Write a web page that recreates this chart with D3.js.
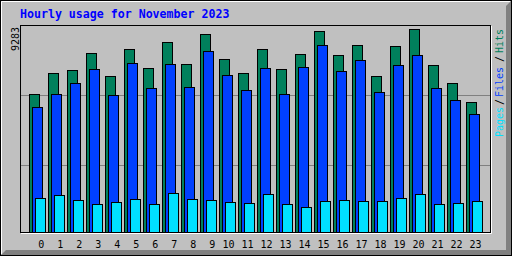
<!DOCTYPE html>
<html>
<head>
<meta charset="utf-8">
<script src="https://cdn.jsdelivr.net/npm/d3@7"></script>
<style>
  body { margin: 0; background: #fff; }
  svg text { font-family: "DejaVu Sans Mono", monospace; }
</style>
</head>
<body>
<div class="chart"></div>
<script>
// data
var title = "Hourly usage for November 2023";
var hours = d3.range(24);
var hits  = [6311, 7271, 7408, 8186, 7134, 8368, 7500, 8689, 7682, 9054, 7911, 7271,
             8368, 7454, 8140, 9192, 8094, 8551, 7134, 8506, 9283, 7637, 6814, 5945];
var files = [5716, 6311, 6814, 7454, 6265, 7728, 6585, 7682, 6631, 8277, 7179, 6494,
             7500, 6311, 7545, 8551, 7362, 7865, 6402, 7637, 8094, 6585, 6036, 5396];
var pages = [1555, 1692, 1463, 1280, 1372, 1509, 1280, 1783, 1509, 1463, 1372, 1326,
             1738, 1280, 1143, 1418, 1463, 1418, 1418, 1555, 1738, 1280, 1326, 1418];
var legend = [
  { text: "Pages", color: "#00E0FF" },
  { text: "/",     color: "#000000" },
  { text: "Files", color: "#0040FF" },
  { text: "/",     color: "#000000" },
  { text: "Hits",  color: "#00805C" }
];

var W = 512, H = 256;
var grey = "#C0C0C0", dkgrey = "#808080";

var svg = d3.select(".chart")
    .append("svg")
    .attr("width", W)
    .attr("height", H)
    .style("display", "block");

// background + 3d border
svg.append("rect").attr("width", W).attr("height", H).attr("fill", grey);
svg.append("polygon")
    .attr("points", "1,255 6,250 506,250 506,6 511,1 511,255")
    .attr("fill", dkgrey);
svg.append("path")
    .attr("d", "M1.5,254 V1.5 H510")
    .attr("fill", "none").attr("stroke", "#fff");
svg.append("rect")
    .attr("x", 0.5).attr("y", 0.5).attr("width", 511).attr("height", 255)
    .attr("fill", "none").attr("stroke", "#000");

// scales
var maxval = d3.max(hits);
var x = d3.scaleBand().domain(hours).range([29, 29 + 24 * 19]);
var y = d3.scaleLinear().domain([0, maxval]).range([232, 29]);

// plot frame
svg.append("path")
    .attr("d", "M21,233.5 H491.5 V26")
    .attr("fill", "none").attr("stroke", "#fff");
svg.append("rect")
    .attr("x", 20.5).attr("y", 25.5).attr("width", 470).attr("height", 207)
    .attr("fill", "none").attr("stroke", "#000");

// index lines
svg.selectAll(".grid")
    .data([1, 2])
    .enter().append("line")
    .attr("class", "grid")
    .attr("x1", 21).attr("x2", 490)
    .attr("y1", function (d) { return d * 70 + 25.5; })
    .attr("y2", function (d) { return d * 70 + 25.5; })
    .attr("stroke", dkgrey);

// bars: hits, files, pages each shifted 3px
var series = [
  { values: hits,  color: "#00805C", off: 0 },
  { values: files, color: "#0040FF", off: 3 },
  { values: pages, color: "#00E0FF", off: 6 }
];

series.forEach(function (s) {
    svg.selectAll(".bar-" + s.off)
        .data(hours)
        .enter().append("rect")
        .attr("class", "bar-" + s.off)
        .attr("x", function (d) { return x(d) + s.off + 0.5; })
        .attr("y", function (d) { return Math.round(y(s.values[d])) + 0.5; })
        .attr("width", 10)
        .attr("height", function (d) { return y(0) - Math.round(y(s.values[d])); })
        .attr("fill", s.color)
        .attr("stroke", "#000");
});

// hour labels
svg.selectAll(".hr")
    .data(hours)
    .enter().append("text")
    .attr("class", "hr")
    .attr("x", function (d) { return x(d) + (d < 10 ? 12.3 : 9.5); })
    .attr("y", 248)
    .attr("text-anchor", "middle")
    .attr("font-size", 10)
    .attr("fill", "#000")
    .text(function (d) { return d; });

// title
svg.append("text")
    .attr("x", 20)
    .attr("y", 18)
    .attr("font-size", 11.6)
    .attr("font-weight", "bold")
    .attr("fill", "#0000FF")
    .text(title);

// max value label
svg.append("text")
    .attr("transform", "translate(19,51) rotate(-90)")
    .attr("font-size", 10)
    .attr("fill", "#000")
    .text(maxval);

// right legend, reading upward
var ly = [137, 105, 97, 62, 53];
legend.forEach(function (l, i) {
    svg.append("text")
        .attr("transform", "translate(503," + ly[i] + ") rotate(-90)")
        .attr("font-size", 10)
        .attr("fill", l.color)
        .text(l.text);
});
</script>
</body>
</html>
